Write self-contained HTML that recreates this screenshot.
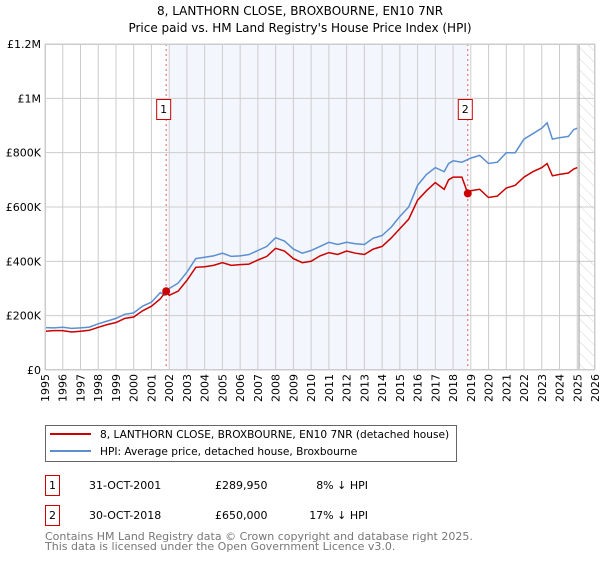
<!DOCTYPE html>
<html><head><meta charset="utf-8"><style>
body{margin:0;background:#fff;font-family:"DejaVu Sans","Liberation Sans",sans-serif;}
svg text{font-family:"DejaVu Sans","Liberation Sans",sans-serif;}
</style></head><body>
<svg id="c" width="600" height="560" viewBox="0 0 600 560" xmlns="http://www.w3.org/2000/svg">
<defs><pattern id="hatch" width="8" height="8" patternUnits="userSpaceOnUse" patternTransform="rotate(-45)"><line x1="0" y1="0" x2="0" y2="8" stroke="#d4d4d4" stroke-width="1"/></pattern></defs>
<text x="300" y="15" text-anchor="middle" font-size="12">8, LANTHORN CLOSE, BROXBOURNE, EN10 7NR</text>
<text x="300" y="32" text-anchor="middle" font-size="12">Price paid vs. HM Land Registry's House Price Index (HPI)</text>
<g id="plot"></g>
<g>
<rect x="45.5" y="425.5" width="411" height="36" fill="#fff" stroke="#666"/>
<line x1="50" y1="434" x2="91" y2="434" stroke="#cc0000" stroke-width="2"/>
<text x="100" y="438" font-size="10.6">8, LANTHORN CLOSE, BROXBOURNE, EN10 7NR (detached house)</text>
<line x1="50" y1="451" x2="91" y2="451" stroke="#5b8fd0" stroke-width="2"/>
<text x="100" y="455" font-size="10.6">HPI: Average price, detached house, Broxbourne</text>
</g>
<g font-size="11">
<rect x="45.5" y="475.5" width="14" height="20" fill="#fff" stroke="#cc0000"/>
<text x="52.5" y="489" text-anchor="middle">1</text>
<text x="89" y="489">31-OCT-2001</text><text x="215" y="489">£289,950</text><text x="368" y="489" text-anchor="end">8% ↓ HPI</text>
<rect x="45.5" y="505.5" width="14" height="20" fill="#fff" stroke="#cc0000"/>
<text x="52.5" y="519" text-anchor="middle">2</text>
<text x="89" y="519">30-OCT-2018</text><text x="215" y="519">£650,000</text><text x="368" y="519" text-anchor="end">17% ↓ HPI</text>
</g>
<text x="45" y="540" font-size="11" fill="#777">Contains HM Land Registry data © Crown copyright and database right 2025.</text>
<text x="45" y="550" font-size="11" fill="#777">This data is licensed under the Open Government Licence v3.0.</text>
</svg>
<script>
const hpiYears=[1995,1995.5,1996,1996.5,1997,1997.5,1998,1998.5,1999,1999.5,2000,2000.5,2001,2001.5,2001.75,2002,2002.5,2003,2003.5,2004,2004.5,2005,2005.5,2006,2006.5,2007,2007.5,2008,2008.5,2009,2009.5,2010,2010.5,2011,2011.5,2012,2012.5,2013,2013.5,2014,2014.5,2015,2015.5,2016,2016.5,2017,2017.5,2017.75,2018,2018.5,2019,2019.5,2020,2020.5,2021,2021.5,2022,2022.5,2023,2023.3,2023.6,2024,2024.5,2024.8,2025];
const hpiValues=[156,155,157,153,155,158,170,180,190,205,210,235,250,285,275,300,320,360,410,415,420,430,418,420,425,440,455,487,475,445,430,440,455,470,462,470,465,462,485,495,525,565,600,680,720,745,730,760,770,765,780,790,760,765,800,800,850,870,890,910,850,855,860,885,890];
const ppYears=[1995,1995.5,1996,1996.5,1997,1997.5,1998,1998.5,1999,1999.5,2000,2000.5,2001,2001.5,2001.83,2002,2002.5,2003,2003.5,2004,2004.5,2005,2005.5,2006,2006.5,2007,2007.5,2008,2008.5,2009,2009.5,2010,2010.5,2011,2011.5,2012,2012.5,2013,2013.5,2014,2014.5,2015,2015.5,2016,2016.5,2017,2017.5,2017.75,2018,2018.5,2018.83,2019,2019.5,2020,2020.5,2021,2021.5,2022,2022.5,2023,2023.3,2023.6,2024,2024.5,2024.8,2025];
const ppValues=[143,145,145,140,143,146,157,167,175,190,195,218,235,262,290,275,290,330,378,380,385,395,385,388,390,405,418,448,438,410,395,400,420,432,425,438,430,425,445,455,485,520,555,625,660,690,665,700,710,710,650,660,665,635,640,670,680,710,730,745,760,715,720,725,740,745];
const sales=[{n:"1",year:2001.83,value:289.95},{n:"2",year:2018.83,value:650}];
const yTicks=[0,200,400,600,800,1000,1200];
const yTickLabels=["£0","£200K","£400K","£600K","£800K","£1M","£1.2M"];
const xStart=1995,xEnd=2026;
const L=45,R=595,T=44,B=370;
const xs=y=>L+(y-xStart)/(xEnd-xStart)*(R-L);
const ys=v=>B-v/1200*(B-T);
const NS="http://www.w3.org/2000/svg";
const g=document.getElementById('plot');
function mk(t,a,p){const e=document.createElementNS(NS,t);for(const k in a)e.setAttribute(k,a[k]);(p||g).appendChild(e);return e;}
const shade=mk('rect',{x:xs(2002),y:T,width:xs(sales[1].year)-xs(2002),height:B-T,fill:'#eef3fc',opacity:0.7});


const hat=mk('rect',{x:xs(2025.1),y:T,width:R-xs(2025.1),height:B-T,fill:'url(#hatch)'});


for(let y=xStart;y<=xEnd;y++){
  const gl=mk('line',{x1:xs(y),x2:xs(y),y1:T,y2:B,stroke:'#ccc','stroke-width':1});
  
  
  const t=mk('text',{x:0,y:0,'font-size':11,'text-anchor':'end',transform:`translate(${xs(y)+4},${B+4}) rotate(-90)`});
  t.textContent=y;
  
  
}
yTicks.forEach((v,i)=>{
  const gl=mk('line',{x1:L,x2:R,y1:ys(v),y2:ys(v),stroke:'#ccc','stroke-width':1});
  
  
  const t=mk('text',{x:L-4,y:ys(v)+4,'font-size':11,'text-anchor':'end'});
  t.textContent=yTickLabels[i];
  
  
});
const vl=mk('line',{x1:xs(2025.1),x2:xs(2025.1),y1:T,y2:B,stroke:'#999','stroke-width':1});


sales.forEach(s=>{
  const l=mk('line',{x1:xs(s.year),x2:xs(s.year),y1:T,y2:B,stroke:'#e06060','stroke-width':1,'stroke-dasharray':'2,3'});
  
  
});
function path(xa,va,color,name){
  const d=xa.map((x,i)=>(i?'L':'M')+xs(x).toFixed(1)+','+ys(va[i]).toFixed(1)).join('');
  const p=mk('path',{d:d,fill:'none',stroke:color,'stroke-width':1.5});
  
  
}
path(hpiYears,hpiValues,'#5b8fd0','hpi-line');
path(ppYears,ppValues,'#cc0000','price-paid-line');
sales.forEach(s=>{
  const c=mk('circle',{cx:xs(s.year),cy:ys(s.value),r:4,fill:'#cc0000'});
  
  
  const r=mk('rect',{x:xs(s.year)-9.5,y:99.5,width:14,height:20,fill:'#fff',stroke:'#cc0000'});
  
  
  const t=mk('text',{x:xs(s.year)-2.5,y:113,'font-size':11,'text-anchor':'middle'});
  t.textContent=s.n;
  
  
});
const fr=mk('rect',{x:L+0.5,y:T+0.5,width:R-L-1,height:B-T-1,fill:'none',stroke:'#ccc'});


</script>
</body></html>
